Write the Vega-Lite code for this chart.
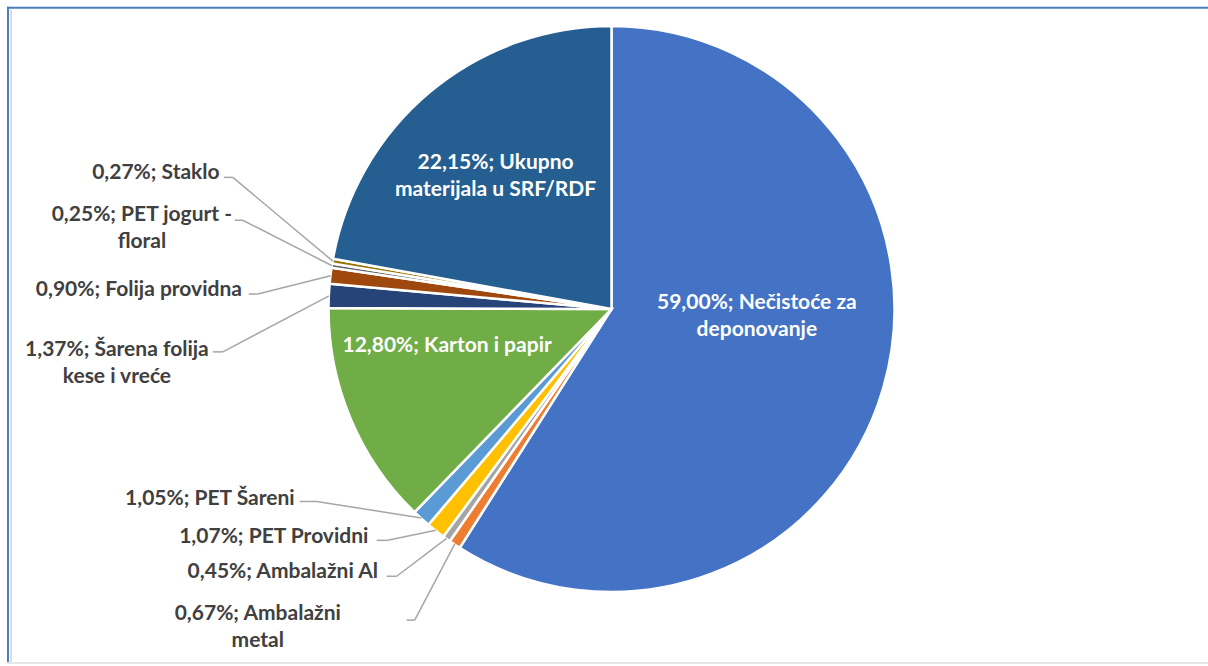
{
  "$schema": "https://vega.github.io/schema/vega-lite/v6.json",
  "width": 1208,
  "height": 666,
  "autosize": {"type": "fit", "contains": "padding"},
  "padding": {"left": 0, "right": -16, "top": -46, "bottom": 0},
  "background": "white",
  "config": {"view": {"stroke": null}},
  "datasets": {
    "shares": [
      {"name": "Nečistoće za deponovanje", "value": 59.00},
      {"name": "Ambalažni metal", "value": 0.67},
      {"name": "Ambalažni Al", "value": 0.45},
      {"name": "PET Providni", "value": 1.07},
      {"name": "PET Šareni", "value": 1.05},
      {"name": "Karton i papir", "value": 12.80},
      {"name": "Šarena folija kese i vreće", "value": 1.37},
      {"name": "Folija providna", "value": 0.90},
      {"name": "PET jogurt - floral", "value": 0.25},
      {"name": "Staklo", "value": 0.27},
      {"name": "Ukupno materijala u SRF/RDF", "value": 22.15}
    ],
    "labels": [
      {"name": "Nečistoće za deponovanje", "label": "59,00%; Nečistoće za\ndeponovanje", "tx": 0.5141, "ty": 0.0},
      {"name": "Ambalažni metal", "label": "0,67%; Ambalažni\nmetal", "tx": -1.2509, "ty": 1.1014, "ax": -0.7244, "ay": 1.1025, "bx": -0.6961, "px": -0.5541, "py": 0.8325},
      {"name": "Ambalažni Al", "label": "0,45%; Ambalažni Al", "tx": -1.1625, "ty": 0.9541, "ax": -0.7951, "ay": 0.9470, "bx": -0.7597, "px": -0.5830, "py": 0.8125},
      {"name": "PET Providni", "label": "1,07%; PET Providni", "tx": -1.1943, "ty": 0.8304, "ax": -0.8304, "ay": 0.8198, "bx": -0.7915, "px": -0.6211, "py": 0.7837},
      {"name": "PET Šareni", "label": "1,05%; PET Šareni", "tx": -1.4205, "ty": 0.6961, "ax": -1.1025, "ay": 0.6820, "bx": -1.0424, "px": -0.6720, "py": 0.7406},
      {"name": "Karton i papir", "label": "12,80%; Karton i papir", "tx": -0.5813, "ty": 0.1519},
      {"name": "Šarena folija kese i vreće", "label": "1,37%; Šarena folija\nkese i vreće", "tx": -1.7491, "ty": 0.1650, "ax": -1.4099, "ay": 0.1519, "bx": -1.3746, "px": -0.9989, "py": -0.0464},
      {"name": "Folija providna", "label": "0,90%; Folija providna", "tx": -1.6714, "ty": -0.0470, "ax": -1.2827, "ay": -0.0530, "bx": -1.2509, "px": -0.9931, "py": -0.1175},
      {"name": "PET jogurt - floral", "label": "0,25%; PET jogurt -\nfloral", "tx": -1.6608, "ty": -0.3120, "ax": -1.3322, "ay": -0.3145, "bx": -1.3039, "px": -0.9882, "py": -0.1533},
      {"name": "Staklo", "label": "0,27%; Staklo", "tx": -1.6113, "ty": -0.4594, "ax": -1.3710, "ay": -0.4664, "bx": -1.3392, "px": -0.9855, "py": -0.1695},
      {"name": "Ukupno materijala u SRF/RDF", "label": "22,15%; Ukupno\nmaterijala u SRF/RDF", "tx": -0.4099, "ty": -0.4972}
    ]
  },
  "layer": [
    {
      "data": {"name": "shares"},
      "transform": [{"window": [{"op": "row_number", "as": "idx"}]}],
      "mark": {"type": "arc", "outerRadius": 283, "stroke": "#ffffff", "strokeWidth": 2.5},
      "encoding": {
        "theta": {"field": "value", "type": "quantitative", "stack": true},
        "order": {"field": "idx", "type": "quantitative"},
        "color": {
          "field": "name",
          "type": "nominal",
          "legend": null,
          "scale": {
            "domain": ["Nečistoće za deponovanje", "Ambalažni metal", "Ambalažni Al", "PET Providni", "PET Šareni", "Karton i papir", "Šarena folija kese i vreće", "Folija providna", "PET jogurt - floral", "Staklo", "Ukupno materijala u SRF/RDF"],
            "range": ["#4472C4", "#ED7D31", "#A5A5A5", "#FFC000", "#5B9BD5", "#70AD47", "#264478", "#9E480E", "#636363", "#997300", "#255E91"]
          }
        }
      }
    },
    {
      "data": {"name": "labels"},
      "transform": [{"filter": "isValid(datum.ax)"}],
      "mark": {"type": "rule", "stroke": "#A6A6A6", "strokeWidth": 1.5},
      "encoding": {
        "x": {"field": "ax", "type": "quantitative", "scale": {"domain": [-2.16254, 2.16254], "nice": false, "zero": false}, "axis": null},
        "x2": {"field": "bx"},
        "y": {"field": "ay", "type": "quantitative", "scale": {"domain": [-1.25795, 1.25795], "reverse": true, "nice": false, "zero": false}, "axis": null}
      }
    },
    {
      "data": {"name": "labels"},
      "transform": [{"filter": "isValid(datum.ax)"}],
      "mark": {"type": "rule", "stroke": "#A6A6A6", "strokeWidth": 1.5},
      "encoding": {
        "x": {"field": "bx", "type": "quantitative", "axis": null},
        "x2": {"field": "px"},
        "y": {"field": "ay", "type": "quantitative", "axis": null},
        "y2": {"field": "py"}
      }
    },
    {
      "data": {"name": "labels"},
      "mark": {"type": "text", "font": "Lato", "fontWeight": "bold", "fontSize": 21, "align": "center", "baseline": "alphabetic", "lineHeight": 27, "lineBreak": "\n"},
      "encoding": {
        "x": {"field": "tx", "type": "quantitative", "axis": null},
        "y": {"field": "ty", "type": "quantitative", "axis": null},
        "text": {"field": "label", "type": "nominal"},
        "color": {"condition": {"test": "isValid(datum.ax)", "value": "#404040"}, "value": "#ffffff"}
      }
    },
    {
      "data": {"values": [{}]},
      "mark": {"type": "rule", "stroke": "#4A7EBB", "strokeWidth": 2},
      "encoding": {
        "y": {"datum": -1.0671, "type": "quantitative"},
        "x": {"datum": -2.1378, "type": "quantitative"},
        "x2": {"datum": 2.1625}
      }
    },
    {
      "data": {"values": [{}]},
      "mark": {"type": "rule", "stroke": "#4A7EBB", "strokeWidth": 2},
      "encoding": {
        "x": {"datum": -2.1343, "type": "quantitative"},
        "y": {"datum": -1.0707, "type": "quantitative"},
        "y2": {"datum": 1.258}
      }
    },
    {
      "data": {"values": [{}]},
      "mark": {"type": "rule", "stroke": "#DCDCDC", "strokeWidth": 2},
      "encoding": {
        "x": {"datum": -2.1237, "type": "quantitative"},
        "y": {"datum": -1.06, "type": "quantitative"},
        "y2": {"datum": 1.258}
      }
    },
    {
      "data": {"values": [{}]},
      "mark": {"type": "rule", "stroke": "#E6E6E6", "strokeWidth": 2},
      "encoding": {
        "y": {"datum": 1.2544, "type": "quantitative"},
        "x": {"datum": -2.1378, "type": "quantitative"},
        "x2": {"datum": 2.1625}
      }
    }
  ]
}
